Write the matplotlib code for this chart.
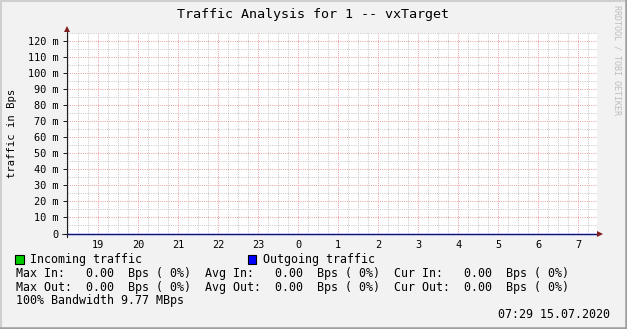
import matplotlib
matplotlib.use("Agg")
import matplotlib.pyplot as plt
from matplotlib.patches import Rectangle
from matplotlib.lines import Line2D

#-------------- Data ---------------
title = "Traffic Analysis for 1 -- vxTarget"
y_label = "traffic in Bps"
watermark = "RRDTOOL / TOBI OETIKER"
timestamp = "07:29 15.07.2020"

# hours counted from the previous midnight (24 = 0h next day)
hour_ticks = [19, 20, 21, 22, 23, 24, 25, 26, 27, 28, 29, 30, 31]
hour_labels = ["19", "20", "21", "22", "23", "0", "1", "2", "3", "4", "5", "6", "7"]
y_ticks = [0.00, 0.01, 0.02, 0.03, 0.04, 0.05, 0.06, 0.07, 0.08, 0.09, 0.10, 0.11, 0.12]

# samples (Bps) - nothing was measured
sample_hours = [18.22, 19, 20, 21, 22, 23, 24, 25, 26, 27, 28, 29, 30, 31, 31.47]
incoming = [0, 0, 0, 0, 0, 0, 0, 0, 0, 0, 0, 0, 0, 0, 0]
outgoing = [0, 0, 0, 0, 0, 0, 0, 0, 0, 0, 0, 0, 0, 0, 0]

max_in, avg_in, cur_in = 0.00, 0.00, 0.00
max_out, avg_out, cur_out = 0.00, 0.00, 0.00
pct_in = [0, 0, 0]
pct_out = [0, 0, 0]
bandwidth = "9.77 MBps"

#-------------- Style ---------------
W, H, DPI = 627, 329, 100
BACK = "#f2f2f2"
SHADE_A = "#cfcfcf"
SHADE_B = "#9e9e9e"
GRID = "#c8c8c8"
MGRID = "#eb9e9e"
ARROW = "#801f1f"
AXIS = "#1f1f1f"
IN_COLOR = "#00cc00"
OUT_COLOR = "#0000ff"

plt.rcParams["font.family"] = ["DejaVu Sans Mono"]


def fx(x):
    return x / W


def fy(y):
    return 1 - y / H


fig = plt.figure(figsize=(W / DPI, H / DPI), dpi=DPI, facecolor=BACK)

# 3D-ish frame
fig.add_artist(Line2D([fx(0.5), fx(0.5)], [fy(0), fy(H)], color=SHADE_A, lw=1.5))
fig.add_artist(Line2D([fx(0), fx(W)], [fy(0.5), fy(0.5)], color=SHADE_A, lw=1.5))
fig.add_artist(Line2D([fx(W - 1), fx(W - 1)], [fy(0), fy(H)], color=SHADE_B, lw=1.8))
fig.add_artist(Line2D([fx(0), fx(W)], [fy(H - 1), fy(H - 1)], color=SHADE_B, lw=1.8))

x0, x1, ytop, ybot = 67, 597, 33, 233.5
ax = fig.add_axes([fx(x0), fy(ybot), (x1 - x0) / W, (ybot - ytop) / H])
ax.set_facecolor("white")
for s in ax.spines.values():
    s.set_visible(False)

ax.set_xlim(18.2175, 31.4675)
ax.set_ylim(0, 0.125)

# grid
ax.set_xticks(hour_ticks)
ax.set_xticklabels(hour_labels)
ax.set_xticks([h + q for h in range(18, 32) for q in (0.25, 0.5, 0.75, 1.0)
               if 18.2175 < h + q < 31.4675], minor=True)
ax.set_yticks(y_ticks)
ax.set_yticklabels(["0"] + ["%d m" % round(v * 1000) for v in y_ticks[1:]])
ax.set_yticks([v + 0.005 for v in y_ticks], minor=True)
ax.grid(True, which="minor", color=GRID, lw=0.72, ls=(0, (1, 1.2)))
ax.grid(True, which="major", color=MGRID, lw=0.72, ls=(0, (1, 1.2)))
ax.set_axisbelow(True)
ax.tick_params(axis="x", which="both", length=0, pad=5, labelsize=7.4)
ax.tick_params(axis="y", which="major", length=3, width=0.72, color=AXIS, pad=3, labelsize=7.4)
ax.tick_params(axis="y", which="minor", length=0)

# traffic
ax.fill_between(sample_hours, incoming, color=IN_COLOR, lw=0)
ax.plot(sample_hours, outgoing, color=OUT_COLOR, lw=1.0, clip_on=False, zorder=4)

# axes with arrows
fig.add_artist(Line2D([fx(66.5), fx(66.5)], [fy(ybot + 3), fy(29)], color=AXIS, lw=0.8))
fig.add_artist(Line2D([fx(62), fx(600)], [fy(ybot), fy(ybot)], color=AXIS, lw=0.8,
                      alpha=0.7, zorder=1))
fig.add_artist(Line2D([fx(66.5)], [fy(29)], marker="^", ms=5, color=ARROW, mew=0))
fig.add_artist(Line2D([fx(600)], [fy(ybot)], marker=">", ms=5, color=ARROW, mew=0))

ax.set_ylabel(y_label, fontsize=7.6, labelpad=8)

fig.text(fx(313), fy(14.5), title, ha="center", va="center", fontsize=9.6)
fig.text(fx(617), fy(5), watermark, rotation=270, ha="center", va="top",
         fontsize=6.0, color="#bdbdbd")

# legend
FS = 8.4
for bx, tx, col, name in [(15, 30, IN_COLOR, "Incoming traffic"),
                          (248, 263, OUT_COLOR, "Outgoing traffic")]:
    fig.add_artist(Rectangle((fx(bx), fy(263.5)), 8.5 / W, 8.5 / H, facecolor=col,
                             edgecolor="black", lw=0.8))
    fig.text(fx(tx), fy(259), name, ha="left", va="center", fontsize=FS)


def stat(label, v, p):
    return "%s%6.2f  Bps (%2d%%)" % (label, v, p)


row_in = "  ".join([stat("Max In: ", max_in, pct_in[0]),
                    stat("Avg In: ", avg_in, pct_in[1]),
                    stat("Cur In: ", cur_in, pct_in[2])])
row_out = "  ".join([stat("Max Out:", max_out, pct_out[0]),
                     stat("Avg Out:", avg_out, pct_out[1]),
                     stat("Cur Out:", cur_out, pct_out[2])])
fig.text(fx(16), fy(273.3), row_in, ha="left", va="center", fontsize=FS)
fig.text(fx(16), fy(287.3), row_out, ha="left", va="center", fontsize=FS)
fig.text(fx(16), fy(300.7), "100% Bandwidth " + bandwidth, ha="left", va="center", fontsize=FS)
fig.text(fx(610), fy(315), timestamp, ha="right", va="center", fontsize=FS)

fig.savefig("out.png", dpi=DPI, facecolor=BACK)
